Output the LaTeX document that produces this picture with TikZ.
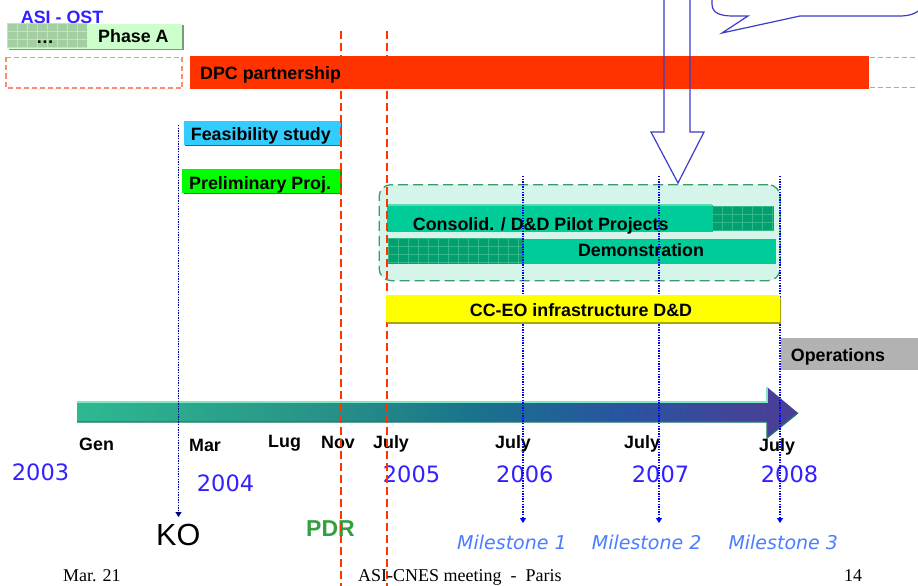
\documentclass[tikz,border=0pt]{standalone}
\usepackage{fontspec}
\setmainfont{Liberation Sans}
\newfontfamily\yearfont{DejaVu Sans}
\newfontfamily\footfont{Liberation Serif}
\usetikzlibrary{arrows.meta,shadows}

% palette
\definecolor{dpcred}{HTML}{FF3300}
\definecolor{salmon}{HTML}{FF8C70}
\definecolor{phaselight}{HTML}{CCFFCC}
\definecolor{phasehatch}{HTML}{A3CFA3}
\definecolor{phasegrid}{HTML}{C2E2C2}
\definecolor{phaseedge}{HTML}{7A9A7A}
\definecolor{feascyan}{HTML}{33CCFF}
\definecolor{feasdark}{HTML}{0077AA}
\definecolor{prelgreen}{HTML}{00FF00}
\definecolor{preldark}{HTML}{00A000}
\definecolor{groupdash}{HTML}{3A9A6A}
\definecolor{groupfill}{HTML}{D6F5EA}
\definecolor{tealbar}{HTML}{00CC99}
\definecolor{teallight}{HTML}{55DDB0}
\definecolor{tealhatch}{HTML}{00A070}
\definecolor{tealgrid}{HTML}{33B88A}
\definecolor{ccyellow}{HTML}{FFFF00}
\definecolor{ccdark}{HTML}{A8A800}
\definecolor{opsgrey}{HTML}{B2B2B2}
\definecolor{callblue}{HTML}{3B3BCC}
\definecolor{yearblue}{HTML}{3320FF}
\definecolor{msblue}{HTML}{4A7DFF}
\definecolor{pdrgreen}{HTML}{33A040}
\definecolor{konavy}{HTML}{00008B}
\definecolor{tlA}{RGB}{45,185,145}
\definecolor{tlB}{RGB}{40,145,135}
\definecolor{tlC}{RGB}{25,115,140}
\definecolor{tlD}{RGB}{40,85,160}
\definecolor{tlE}{RGB}{78,60,150}
\definecolor{tltop}{HTML}{80E6C4}
\definecolor{tlbottom}{HTML}{1F7A6A}

\pgfdeclarehorizontalshading{timelineshade}{100bp}{color(0bp)=(tlA); color(25bp)=(tlA); color(42.5bp)=(tlB); color(52.5bp)=(tlC); color(62.5bp)=(tlD); color(75bp)=(tlE); color(100bp)=(tlE)}

\newcommand\lblfont{\bfseries\fontsize{17.85}{20}\selectfont}

% tiled rectangle: x1,y1,x2,y2,base colour,grid colour
\newcommand{\hatchrect}[6]{%
  \begin{scope}
    \clip (#1,#2) rectangle (#3,#4);
    \fill[#5] (#1,#2) rectangle (#3,#4);
    \foreach \hx in {0,10,...,200} \draw[#6, line width=0.7pt] ({#1+\hx},#2) -- ({#1+\hx},#4);
    \foreach \hy in {0,8,...,40} \draw[#6, line width=0.7pt] (#1,{#2+\hy}) -- (#3,{#2+\hy});
  \end{scope}}

\tikzset{
  bar/.style={rectangle, inner sep=0pt, anchor=north west},
  lbl/.style={font=\lblfont, inner sep=0pt},
  yr/.style={font=\yearfont\fontsize{22.5}{24}\selectfont, text=yearblue, inner sep=0pt, anchor=base west},
  ms/.style={font=\yearfont\itshape\fontsize{19}{22}\selectfont, text=msblue, inner sep=0pt, anchor=base west},
  foot/.style={font=\footfont\fontsize{18}{20}\selectfont, inner sep=0pt, anchor=base west},
  redline/.style={draw=dpcred, line width=1.3pt, dash pattern=on 8pt off 4pt},
  mline/.style={draw=blue, line width=1.3pt, dash pattern=on 1.3pt off 1.3pt, -{Triangle[width=6pt,length=5pt]}},
  koline/.style={mline, draw=konavy, fill=konavy, line width=1.5pt},
  callout/.style={draw=callblue, line width=1.2pt, line join=miter},
}

\begin{document}
\begin{tikzpicture}[x=1pt, y=-1pt]
\useasboundingbox (0,0) rectangle (918,586);
\clip (0,0) rectangle (918,586);
\fill[white] (0,0) rectangle (918,586);

% --- heading and phase A ---
\node[lbl, text=yearblue, anchor=base west] (asi) at (20.7,24) {ASI - OST};
\fill[phaseedge] (8.5,25) rectangle (184,50.5);
\node[bar, fill=phaselight, minimum width=175pt, minimum height=25pt] (phase) at (7,23.5) {};
\hatchrect{7}{23.5}{87}{48.5}{phasehatch}{phasegrid}
\node[lbl, anchor=base] (dots) at (45,44) {\dots};
\node[lbl, anchor=base west] (phaseA) at (98,43) {Phase A};

% --- DPC partnership ---
\draw[salmon, line width=1.2pt, dash pattern=on 5pt off 3pt] (6,57.5) rectangle (182,88);
\draw[salmon, line width=1.2pt, dash pattern=on 5pt off 3pt] (870,57.5) -- (925,57.5) (870,87.5) -- (925,87.5);
\node[bar, fill=dpcred, minimum width=679pt, minimum height=32.5pt] (dpc) at (190,56) {};
\node[lbl, anchor=base west] (dpct) at (200,79) {DPC partnership};

% --- early studies ---
\node[bar, fill=feascyan, minimum width=157pt, minimum height=24pt,
      drop shadow={shadow xshift=1.5pt, shadow yshift=-1.5pt, fill=feasdark, opacity=1}] (feas) at (183.5,120.5) {};
\node[lbl, anchor=base west] (feast) at (190.7,140) {Feasibility study};
\node[bar, fill=prelgreen, minimum width=158pt, minimum height=24pt,
      drop shadow={shadow xshift=1.5pt, shadow yshift=-1.5pt, fill=preldark, opacity=1}] (prel) at (182,168.5) {};
\node[lbl, anchor=base west] (prelt) at (189,189) {Preliminary Proj.};

% --- pilot projects group ---
\node[bar, draw=groupdash, fill=groupfill, line width=1.3pt, dash pattern=on 10pt off 5pt,
      rounded corners=12pt, minimum width=401pt, minimum height=96pt] (group) at (378.5,184) {};
\node[bar, fill=tealbar, minimum width=326pt, minimum height=27pt] (consol) at (387,204.5) {};
\draw[teallight, line width=1.2pt] (387,205) -- (712,205);
\hatchrect{712.5}{206}{774}{230}{tealhatch}{tealgrid}
\node[lbl, anchor=base west] (consolt) at (412.7,230) {Consolid. / D\&D Pilot Projects};
\node[bar, fill=tealbar, minimum width=388pt, minimum height=25pt] (demo) at (388,238.5) {};
\hatchrect{388}{238.5}{524}{263.5}{tealhatch}{tealgrid}
\node[lbl, anchor=base] (demot) at (641,256) {Demonstration};

% --- time line arrow ---
\shade[shading=timelineshade] (77,402) -- (767,402) -- (767,387) -- (798,413) -- (767,438) -- (767,422) -- (77,422) -- cycle;
\draw[tltop, line width=1.2pt] (77,402) -- (767,402) -- (767,387);
\draw[tlbottom, line width=1.2pt] (77,422) -- (767,422) -- (767,438) -- (798,413);

% --- month and year labels ---
\node[lbl, anchor=base west] (gen) at (79,450.7) {Gen};
\node[lbl, anchor=base west] (mar) at (189,451.5) {Mar};
\node[lbl, anchor=base west] (lug) at (268,447) {Lug};
\node[lbl, anchor=base west] (nov) at (321,448) {Nov};
\node[lbl, anchor=base west] (jul5) at (373,448) {July};
\node[lbl, anchor=base west] (jul6) at (495,448) {July};
\node[lbl, anchor=base west] (jul7) at (624,448) {July};
\node[lbl, anchor=base west] (jul8) at (759,451.5) {July};
\node[yr] (y3) at (11.7,480) {2003};
\node[yr] (y4) at (196.7,491.7) {2004};
\node[yr] (y5) at (382.7,482.7) {2005};
\node[yr] (y6) at (496,482.7) {2006};
\node[yr] (y7) at (631.7,482.7) {2007};
\node[yr] (y8) at (760.7,482.7) {2008};

% --- events ---
\node[font=\fontsize{30.6}{32}\selectfont, inner sep=0pt, anchor=base west] (ko) at (156,545.7) {KO};
\node[font=\bfseries\fontsize{23}{25}\selectfont, text=pdrgreen, inner sep=0pt, anchor=base west] (pdr) at (306,536.7) {PDR};
\node[ms] (ms1) at (457,549.3) {Milestone 1};
\node[ms] (ms2) at (591.7,549.3) {Milestone 2};
\node[ms] (ms3) at (728.3,549.3) {Milestone 3};

% --- markers ---
\coordinate (kotop) at (178.5,125);
\coordinate (kotip) at (178.5,517);
\coordinate (m1top) at (523,176);
\coordinate (m1tip) at (523,523);
\coordinate (m2top) at (659,176);
\coordinate (m2tip) at (659,523);
\coordinate (m3top) at (780,176);
\coordinate (m3tip) at (780,523);
\coordinate (pdrtop) at (341,31);
\coordinate (pdrbot) at (341,590);
\coordinate (jultop) at (387,31);
\coordinate (julbot) at (387,590);
\draw[koline] (kotop) -- (kotip);
\draw[mline] (m1top) -- (m1tip);
\draw[mline] (m2top) -- (m2tip);
\draw[mline] (m3top) -- (m3tip);
\draw[redline] (pdrtop) -- (pdrbot);
\draw[redline] (jultop) -- (julbot);

% --- infrastructure and operations ---
\node[bar, fill=ccyellow, minimum width=394pt, minimum height=27pt,
      drop shadow={shadow xshift=1.5pt, shadow yshift=-1.5pt, fill=ccdark, opacity=1}] (cceo) at (385.7,295) {};
\node[lbl, anchor=base] (cceot) at (581,316.7) {CC-EO infrastructure D\&D};
\node[bar, fill=opsgrey, minimum width=140pt, minimum height=32.5pt] (ops) at (780.7,337.7) {};
\node[lbl, anchor=base west] (opst) at (790.7,361) {Operations};

% --- call-out and pointer arrow ---
\draw[callout] (712,-10) -- (712,4) .. controls (712,13) and (720,16) .. (733,16) -- (748,16) -- (722,33) -- (800,16) -- (900,16) .. controls (912,16) and (920,12) .. (924,4) -- (924,-10);
\draw[callout] (664,-10) -- (664,132) -- (651,132) -- (678,183) -- (704,132) -- (690,132) -- (690,-10);

% --- footer ---
\node[foot] (fdate) at (63,581) {Mar. 21};
\node[foot] (fmeet) at (358,581) {ASI-CNES meeting\ \ -\ \ Paris};
\node[foot] (fpage) at (844,581) {14};
\end{tikzpicture}
\end{document}
